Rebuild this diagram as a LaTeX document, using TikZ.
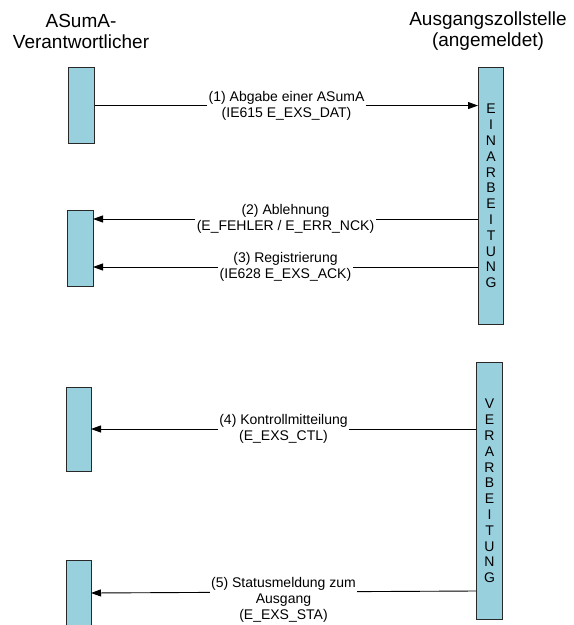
\documentclass[tikz,border=0pt]{standalone}
\usepackage{fontspec}
\setmainfont{Liberation Sans}
\usetikzlibrary{arrows.meta}
\definecolor{boxblue}{RGB}{153,208,222}
\definecolor{boxline}{RGB}{40,40,40}
\begin{document}
\begin{tikzpicture}[x=1pt,y=-1pt,
  lifebox/.style={draw=boxline, line width=1.1pt, fill=boxblue, inner sep=0pt, anchor=north west},
  vtext/.style={font=\fontsize{14}{15.8}\selectfont, align=center},
  titletext/.style={font=\fontsize{19}{21}\selectfont, align=center, inner sep=0pt},
  msg/.style={line width=0.9pt, -{Triangle[length=10pt,width=7pt]}},
  lbl/.style={fill=white, inner xsep=1.5pt, inner ysep=0pt, align=center, font=\fontsize{14}{16}\selectfont}
]
\clip (0,0) rectangle (574,625);
\fill[white] (0,0) rectangle (574,625);

% titles
\node[titletext] (tl) at (81,31) {ASumA-\\Verantwortlicher};
\node[titletext] (tr) at (488,31) {Ausgangszollstelle\\(angemeldet)};

% left activation boxes
\node[lifebox, minimum width=26pt, minimum height=76pt] (L1) at (68,67) {};
\node[lifebox, minimum width=26pt, minimum height=76pt] (L2) at (67,210) {};
\node[lifebox, minimum width=25pt, minimum height=84pt] (L3) at (66,387) {};
\node[lifebox, minimum width=25pt, minimum height=80pt] (L4) at (66,560) {};

% right activation boxes
\node[lifebox, vtext, minimum width=25pt, minimum height=257pt] (R1) at (478,67)
  {E\\I\\N\\A\\R\\B\\E\\I\\T\\U\\N\\G};
\node[lifebox, vtext, minimum width=26pt, minimum height=257pt] (R2) at (476,362)
  {V\\E\\R\\A\\R\\B\\E\\I\\T\\U\\N\\G};

% connector end points
\coordinate (r2a) at (478,219);
\coordinate (l2a) at (93,219);
\coordinate (r3a) at (478,267);
\coordinate (l3a) at (93,267);
\coordinate (r4a) at (476,429);
\coordinate (l4a) at (91,429);
\coordinate (r5a) at (476,591);
\coordinate (l5a) at (91,593);

% messages
\draw[msg] (L1.east) -- node[lbl] (m1) {(1) Abgabe einer ASumA\\(IE615 E\_EXS\_DAT)} (R1.west |- L1.east);
\draw[msg] (r2a) -- node[lbl] (m2) {(2) Ablehnung\\(E\_FEHLER / E\_ERR\_NCK)} (l2a);
\draw[msg] (r3a) -- node[lbl] (m3) {(3) Registrierung\\(IE628 E\_EXS\_ACK)} (l3a);
\draw[msg] (r4a) -- node[lbl] (m4) {(4) Kontrollmitteilung\\(E\_EXS\_CTL)} (l4a);
\draw[msg] (r5a) -- node[lbl, yshift=-8pt] (m5) {(5) Statusmeldung zum\\Ausgang\\(E\_EXS\_STA)} (l5a);
\end{tikzpicture}
\end{document}
